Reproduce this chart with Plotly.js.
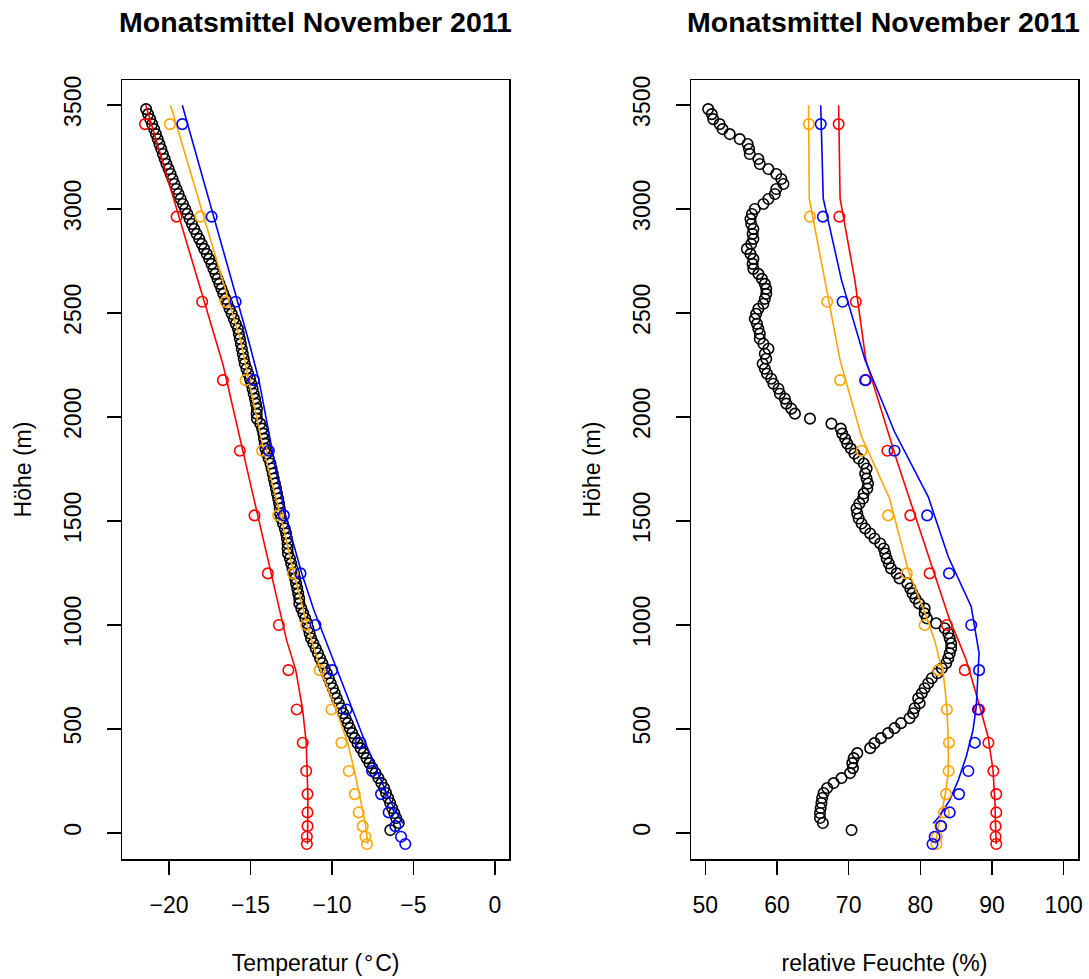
<!DOCTYPE html>
<html>
<head>
<meta charset="utf-8">
<script src="https://cdn.plot.ly/plotly-3.0.1.min.js"></script>
<style>html,body{margin:0;padding:0;background:#fff;}#chart{width:1089px;height:979px;}</style>
</head>
<body>
<div id="chart"></div>
<script>
// ---------- Observations (black circles) ----------
const obsHeight = [3479,3455,3431,3407,3383,3359,3335,3311,3287,3263,3239,3215,3191,3167,3143,3119,3095,3071,3047,3023,2999,2975,2951,2927,2903,2879,2855,2831,2807,2783,2759,2735,2711,2687,2663,2639,2615,2591,2567,2543,2519,2495,2471,2447,2423,2399,2375,2351,2327,2303,2279,2255,2231,2207,2183,2159,2135,2111,2087,2063,2039,2015,1991,1967,1943,1919,1895,1871,1847,1823,1799,1775,1751,1727,1703,1679,1655,1631,1607,1583,1559,1535,1511,1487,1463,1439,1415,1391,1367,1343,1319,1295,1271,1247,1223,1199,1175,1151,1127,1103,1079,1055,1031,1007,983,959,935,911,887,863,839,815,791,767,743,719,695,671,647,623,599,575,551,527,503,479,455,431,407,383,359,335,311,287,263,239,215,191,167,143,119,95,71,47,13];
const obsTemp = [-21.40,-21.28,-21.15,-21.03,-20.91,-20.80,-20.69,-20.58,-20.47,-20.37,-20.26,-20.15,-20.02,-19.90,-19.78,-19.66,-19.54,-19.41,-19.28,-19.14,-19.00,-18.87,-18.73,-18.59,-18.45,-18.30,-18.14,-17.99,-17.84,-17.68,-17.53,-17.39,-17.27,-17.15,-17.02,-16.90,-16.78,-16.66,-16.53,-16.41,-16.28,-16.15,-16.02,-15.90,-15.77,-15.71,-15.65,-15.59,-15.53,-15.47,-15.41,-15.35,-15.24,-15.14,-15.03,-14.95,-14.87,-14.80,-14.72,-14.66,-14.60,-14.62,-14.60,-14.40,-14.28,-14.21,-14.17,-14.12,-14.08,-14.00,-13.88,-13.77,-13.70,-13.63,-13.57,-13.50,-13.43,-13.37,-13.30,-13.24,-13.20,-13.18,-13.12,-13.00,-12.89,-12.81,-12.76,-12.72,-12.72,-12.70,-12.58,-12.50,-12.42,-12.32,-12.26,-12.20,-12.13,-12.07,-12.01,-12.00,-11.88,-11.76,-11.64,-11.52,-11.45,-11.37,-11.28,-11.14,-11.00,-10.86,-10.73,-10.59,-10.45,-10.32,-10.20,-10.08,-9.95,-9.83,-9.71,-9.58,-9.45,-9.31,-9.17,-9.03,-8.90,-8.76,-8.61,-8.43,-8.24,-8.06,-7.88,-7.70,-7.52,-7.33,-7.15,-6.97,-6.80,-6.68,-6.55,-6.43,-6.31,-6.18,-6.06,-5.90,-6.42];
const obsRH = [50.4,50.9,51.1,52.0,52.4,53.4,54.8,55.9,56.1,56.2,57.4,57.6,58.8,59.9,60.6,60.9,59.9,59.7,58.8,58.1,56.9,56.5,56.3,56.4,56.7,56.6,56.7,56.4,55.8,56.3,56.7,56.6,56.7,57.4,57.9,58.3,58.5,58.5,58.3,58.1,57.4,57.1,56.9,57.2,57.4,57.6,57.6,58.1,58.8,58.3,58.5,58.0,58.3,58.6,59.2,59.5,60.2,60.4,61.1,61.3,62.0,62.5,64.6,67.6,68.9,69.1,69.5,69.8,70.3,70.8,71.4,72.1,72.5,72.3,72.5,72.7,72.6,72.1,72.0,71.5,71.1,71.2,71.4,71.8,72.3,73.0,73.6,74.4,74.9,75.1,75.3,75.6,75.9,76.7,77.1,78.2,78.6,78.9,79.3,79.8,80.6,80.6,80.9,82.2,83.4,83.9,84.1,84.3,84.3,84.1,83.9,83.6,83.0,82.4,81.6,81.1,80.6,80.2,79.7,79.9,79.2,79.0,78.5,77.3,76.4,75.5,74.5,73.6,73.0,71.2,70.7,70.5,70.6,70.2,69.0,67.9,67.0,66.5,66.3,66.2,66.1,66.0,66.0,66.4,70.4];

// ---------- Model levels (coloured circles) ----------
const levelHeight = [3407,2962,2553,2176,1837,1526,1247,999,782,593,433,297,186,98,32,-19,-54];
const tempRed    = [-21.47,-19.53,-17.96,-16.69,-15.65,-14.75,-13.93,-13.26,-12.67,-12.16,-11.79,-11.58,-11.50,-11.50,-11.50,-11.54,-11.54];
const tempOrange = [-19.94,-18.08,-16.53,-15.30,-14.28,-13.30,-12.40,-11.58,-10.75,-10.03,-9.42,-8.97,-8.60,-8.36,-8.11,-7.95,-7.85];
const tempBlue   = [-19.18,-17.38,-15.91,-14.79,-13.87,-12.95,-11.93,-11.01,-9.99,-9.11,-8.25,-7.54,-6.99,-6.52,-6.11,-5.76,-5.50];
const rhRed      = [68.6,68.7,71.0,72.4,75.4,78.6,81.3,83.7,86.2,88.2,89.5,90.2,90.6,90.6,90.5,90.5,90.6];
const rhOrange   = [64.45,64.6,67.0,68.8,71.8,75.5,78.1,80.6,82.5,83.7,84.0,83.95,83.6,83.3,82.8,82.3,82.25];
const rhBlue     = [66.1,66.4,69.15,72.3,76.4,80.95,84.0,87.1,88.2,88.05,87.6,86.7,85.4,84.1,82.9,82.0,81.7];

// ---------- Profiles (coloured lines) ----------
const tRedLineH    = [3498,2250,1837,1526,1247,925,782,593,433,297,186,98,32,-54];
const tRedLine     = [-21.42,-16.68,-15.47,-14.56,-13.75,-12.78,-12.22,-11.80,-11.58,-11.50,-11.48,-11.48,-11.48,-11.50];
const tOrangeLineH = [3498,2362,2176,1837,1526,1247,999,782,593,433,297,186,98,32,-19,-54];
const tOrangeLine  = [-19.90,-15.59,-15.10,-14.18,-13.16,-12.33,-11.52,-10.70,-9.75,-9.03,-8.62,-8.30,-8.09,-7.93,-7.85,-7.80];
const tBlueLineH   = [3498,2362,2176,1837,1526,1247,1071,782,593,433,297,186,106,45];
const tBlueLine    = [-19.18,-15.10,-14.48,-13.66,-12.85,-11.85,-11.11,-9.68,-8.76,-7.95,-7.23,-6.62,-6.11,-5.65];

const rhRedLineH    = [3498,3050,2649,2272,1792,1551,1295,1023,925,831,637,462,302,157,29,-54];
const rhRedLine     = [68.6,68.8,70.9,72.4,76.7,79.0,81.55,84.1,85.3,86.4,88.05,89.45,90.14,90.4,90.5,90.6];
const rhOrangeLineH = [3498,3050,2272,1904,1608,1263,1039,925,829,766,606,446,286,189,93,29,-54];
const rhOrangeLine  = [64.4,64.5,68.8,71.8,75.7,78.3,80.85,82.0,82.7,83.2,83.7,83.9,83.9,83.5,82.95,82.5,82.1];
const rhBlueLineH   = [3498,3050,2657,2272,1928,1615,1327,1087,863,766,606,494,366,254,157,77,45];
const rhBlueLine    = [66.1,66.45,69.0,72.3,76.4,81.1,83.9,87.1,88.2,88.05,87.8,87.35,86.4,85.3,84.1,82.6,81.8];

const heightTicks = [0,500,1000,1500,2000,2500,3000,3500];
const tempTicks = [-20,-15,-10,-5,0];
const rhTicks = [50,60,70,80,90,100];

const titleText = 'Monatsmittel November 2011';

// ---------- Styling ----------
const FONT = 'Liberation Sans, Arial, Helvetica, sans-serif';
const RED = '#FF0000', ORANGE = '#FFA500', BLUE = '#0000FF', BLACK = '#000000';
const MS = 10.5, MW = 1.6, LW = 1.6;

function circles(x, y, color, xa, ya) {
  return {x: x, y: y, xaxis: xa, yaxis: ya, type: 'scatter', mode: 'markers',
    marker: {symbol: 'circle-open', size: MS, color: color, line: {width: MW, color: color}},
    hoverinfo: 'x+y', showlegend: false};
}
function line(x, y, color, xa, ya) {
  return {x: x, y: y, xaxis: xa, yaxis: ya, type: 'scatter', mode: 'lines',
    line: {color: color, width: LW}, hoverinfo: 'x+y', showlegend: false};
}

const data = [
  circles(obsTemp, obsHeight, BLACK, 'x', 'y'),
  line(tRedLine, tRedLineH, RED, 'x', 'y'),
  line(tOrangeLine, tOrangeLineH, ORANGE, 'x', 'y'),
  line(tBlueLine, tBlueLineH, BLUE, 'x', 'y'),
  circles(tempRed, levelHeight, RED, 'x', 'y'),
  circles(tempOrange, levelHeight, ORANGE, 'x', 'y'),
  circles(tempBlue, levelHeight, BLUE, 'x', 'y'),

  circles(obsRH, obsHeight, BLACK, 'x2', 'y2'),
  line(rhRedLine, rhRedLineH, RED, 'x2', 'y2'),
  line(rhOrangeLine, rhOrangeLineH, ORANGE, 'x2', 'y2'),
  line(rhBlueLine, rhBlueLineH, BLUE, 'x2', 'y2'),
  circles(rhRed, levelHeight, RED, 'x2', 'y2'),
  circles(rhOrange, levelHeight, ORANGE, 'x2', 'y2'),
  circles(rhBlue, levelHeight, BLUE, 'x2', 'y2')
];

const W = 1089, H = 979;
const ML = 122, MR = 11, MT = 80, MB = 120;
const PW = W - ML - MR, PH = H - MT - MB;
function dom(a, b) { return [(a - ML) / PW, (b - ML) / PW]; }

const axCommon = {
  showgrid: false, zeroline: false, showline: true, mirror: true,
  linecolor: BLACK, linewidth: 1.5,
  ticks: 'outside', ticklen: 14, tickwidth: 1.5, tickcolor: BLACK,
  tickfont: {family: FONT, size: 23, color: BLACK}
};
const xTitleFont = {family: FONT, size: 23, color: BLACK};

const layout = {
  width: W, height: H,
  margin: {l: ML, r: MR, t: MT, b: MB, pad: 0},
  paper_bgcolor: '#fff', plot_bgcolor: '#fff',
  showlegend: false,
  font: {family: FONT, color: BLACK},
  title: {text: titleText, x: (315.5 - ML) / PW, xanchor: 'center', xref: 'paper',
          y: 1 - 22 / H, yanchor: 'middle', yref: 'container',
          font: {family: FONT, size: 28.5, weight: 'bold', color: BLACK}},
  annotations: [{text: titleText, xref: 'paper', yref: 'paper',
          x: (883.5 - ML) / PW, xanchor: 'center', y: 1 + (MT - 22) / PH, yanchor: 'middle',
          showarrow: false, font: {family: FONT, size: 28.5, weight: 'bold', color: BLACK}}],
  xaxis: Object.assign({}, axCommon, {domain: dom(122, 509.3), range: [-22.88, 0.88],
          tickvals: tempTicks, anchor: 'y', ticklabelstandoff: 11,
          title: {text: 'Temperatur (\u200A°\u200AC)', standoff: 38, font: xTitleFont}}),
  yaxis: Object.assign({}, axCommon, {domain: [0, 1], range: [-126, 3619],
          tickvals: heightTicks, tickangle: -90, anchor: 'x', ticklabelstandoff: 16,
          title: {text: 'Höhe (m)', standoff: 22, font: xTitleFont}}),
  xaxis2: Object.assign({}, axCommon, {domain: dom(691, 1078.3), range: [48, 102],
          tickvals: rhTicks, anchor: 'y2', ticklabelstandoff: 11,
          title: {text: 'relative Feuchte (%)', standoff: 38, font: xTitleFont}}),
  yaxis2: Object.assign({}, axCommon, {domain: [0, 1], range: [-126, 3619],
          tickvals: heightTicks, tickangle: -90, anchor: 'x2', ticklabelstandoff: 16,
          title: {text: 'Höhe (m)', standoff: 22, font: xTitleFont}})
};

Plotly.newPlot('chart', data, layout, {displayModeBar: false, staticPlot: true});
</script>
</body>
</html>
